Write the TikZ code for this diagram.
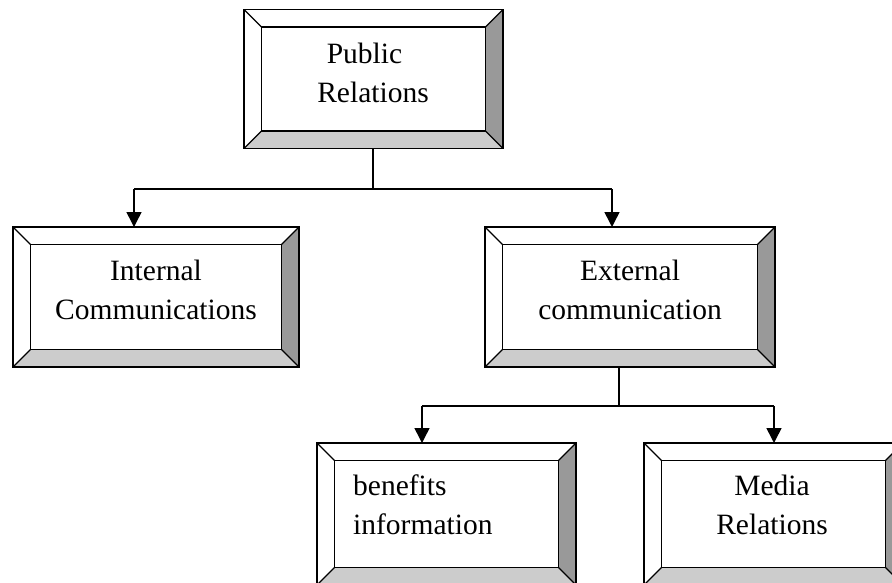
\documentclass[tikz,border=0pt]{standalone}
\usepackage{fontspec}
\setmainfont{Liberation Serif}
\usetikzlibrary{calc,arrows.meta}

\definecolor{sideshade}{RGB}{153,153,153}
\definecolor{baseshade}{RGB}{204,204,204}
\def\bw{17.5pt}

\tikzset{
  framebox/.style={rectangle, inner sep=0pt, outer sep=0pt, draw=none,
    minimum width=#1},
  framebox/.default=259pt,
  frameline/.style={draw=black, line width=1.3pt, line join=miter},
  boxtext/.style={font=\fontsize{29.5pt}{38.5pt}\selectfont, inner sep=0pt,
    anchor=base, align=center},
  link/.style={line width=1.5pt},
  arrowlink/.style={line width=1.5pt, -{Triangle[width=15pt,length=15pt]}},
}

% Bevelled frame around a named rectangular node
\newcommand\bevelframe[1]{%
  \fill[sideshade] (#1.north east) -- (#1.south east)
    -- ($(#1.south east)+(-\bw,\bw)$) -- ($(#1.north east)+(-\bw,-\bw)$) -- cycle;
  \fill[baseshade] (#1.south west) -- (#1.south east)
    -- ($(#1.south east)+(-\bw,\bw)$) -- ($(#1.south west)+(\bw,\bw)$) -- cycle;
  \draw[frameline] (#1.north west) rectangle (#1.south east);
  \draw[frameline] ($(#1.north west)+(\bw,-\bw)$) rectangle ($(#1.south east)+(-\bw,\bw)$);
  \draw[frameline] (#1.north west) -- ($(#1.north west)+(\bw,-\bw)$)
    (#1.north east) -- ($(#1.north east)+(-\bw,-\bw)$)
    (#1.south west) -- ($(#1.south west)+(\bw,\bw)$)
    (#1.south east) -- ($(#1.south east)+(-\bw,\bw)$);
}

\begin{document}
\begin{tikzpicture}[x=1pt,y=-1pt]
  \useasboundingbox (0,0) rectangle (892,582);
  \clip (0,0) rectangle (892,582);

  % boxes
  \node[framebox, minimum height=139pt] (pr) at (373.5,79) {};
  \node[framebox=286pt, minimum height=140pt] (ic) at (156,297) {};
  \node[framebox=290pt, minimum height=140pt] (ec) at (630,297) {};
  \node[framebox, minimum height=142pt] (bi) at (446.5,514) {};
  \node[framebox, minimum height=142pt] (mr) at (773.5,514) {};

  \bevelframe{pr}
  \bevelframe{ic}
  \bevelframe{ec}
  \bevelframe{bi}
  \bevelframe{mr}

  % labels (anchored on the baseline of the last line)
  \node[boxtext] (prt) at (373,102) {Public\hspace*{17pt}\\Relations};
  \node[boxtext] (ict) at (156,319) {Internal\\Communications};
  \node[boxtext] (ect) at (630,319) {External\\communication};
  \node[boxtext, align=left, anchor=base west] (bit) at (353,534) {benefits\\information};
  \node[boxtext] (mrt) at (772,534) {Media\\Relations};

  % first tier connectors
  \coordinate (j1) at (373,189);
  \coordinate (l1) at (134,189);
  \coordinate (r1) at (612,189);
  \draw[link] (pr.south -| j1) -- (j1);
  \draw[link] (l1) -- (r1);
  \draw[arrowlink] (l1) -- (l1 |- ic.north);
  \draw[arrowlink] (r1) -- (r1 |- ec.north);

  % second tier connectors
  \coordinate (j2) at (619,406);
  \coordinate (l2) at (422,406);
  \coordinate (r2) at (774,406);
  \draw[link] (ec.south -| j2) -- (j2);
  \draw[link] (l2) -- (r2);
  \draw[arrowlink] (l2) -- (l2 |- bi.north);
  \draw[arrowlink] (r2) -- (r2 |- mr.north);
\end{tikzpicture}
\end{document}
